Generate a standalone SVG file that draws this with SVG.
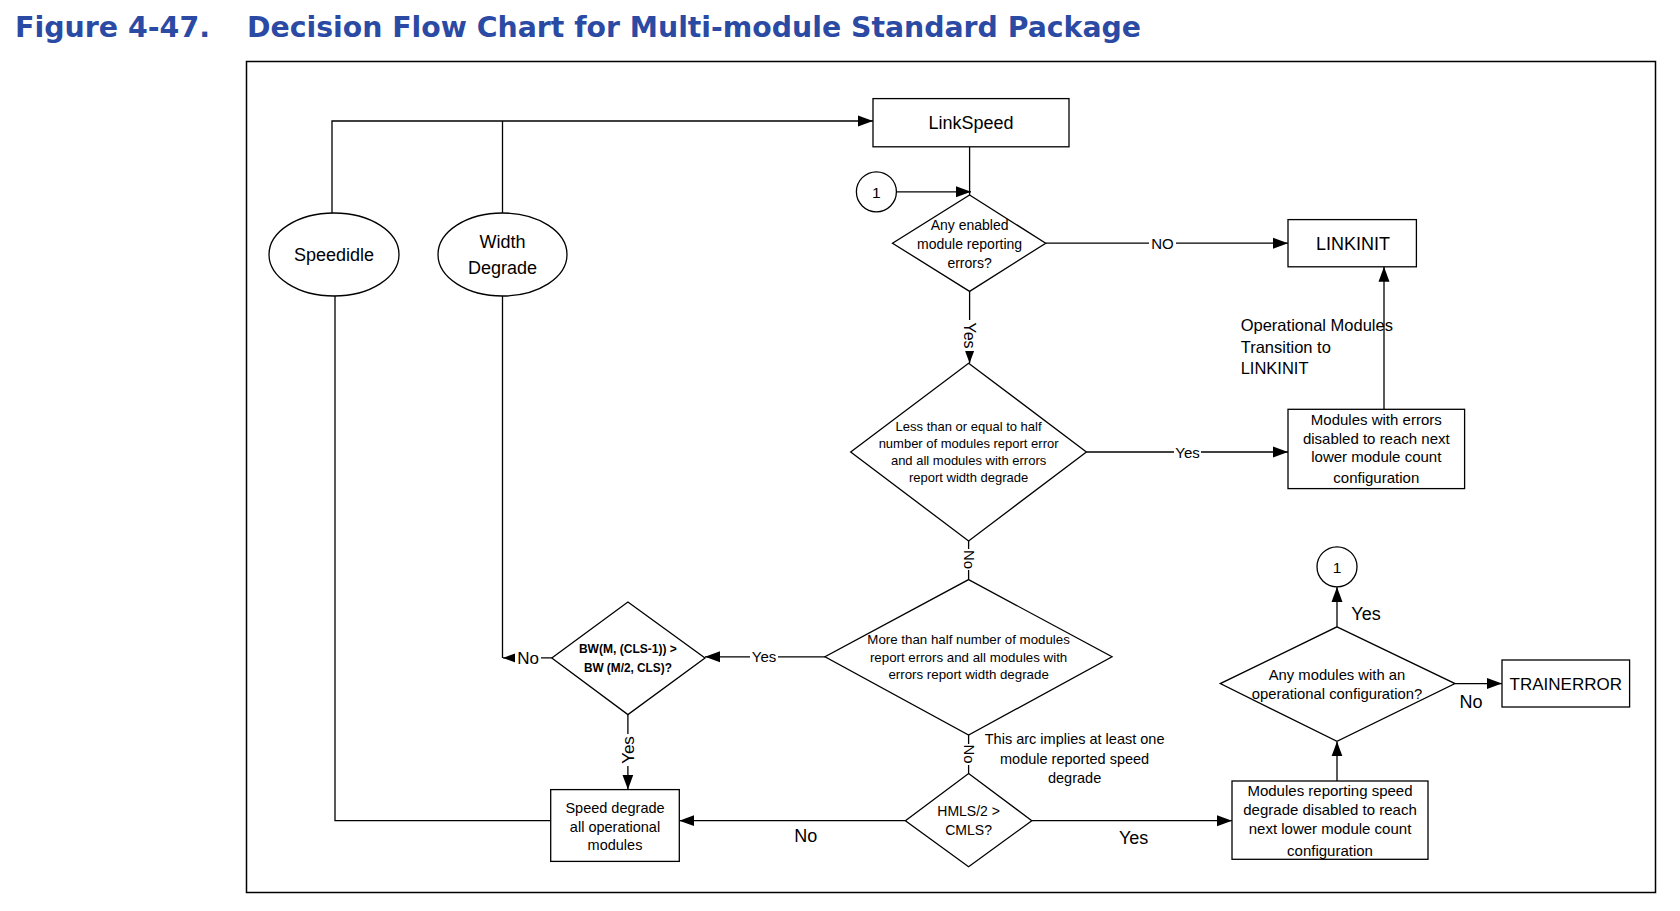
<svg xmlns="http://www.w3.org/2000/svg" width="1680" height="911" viewBox="0 0 1680 911">
<defs>
<marker id="arr" markerUnits="userSpaceOnUse" markerWidth="16" markerHeight="12" refX="15" refY="6" orient="auto">
<path d="M0,0.5 L15,6 L0,11.5 z" fill="#000"/>
</marker>
<style>
.t{font-family:"Liberation Sans",Arial,sans-serif;fill:#000;text-anchor:middle}
.s{text-anchor:start}
.title{font-family:"DejaVu Sans",Verdana,sans-serif;font-weight:bold;fill:#2b4aa3;font-size:28px}
.shape{fill:#fff;stroke:#000;stroke-width:1.3}
.ln{fill:none;stroke:#000;stroke-width:1.3}
.bg{fill:#fff}
</style>
</defs>
<rect width="1680" height="911" fill="#fff"/>
<text class="title" x="15" y="37" textLength="195" lengthAdjust="spacingAndGlyphs">Figure 4-47.</text>
<text class="title" x="247" y="37" textLength="894" lengthAdjust="spacingAndGlyphs">Decision Flow Chart for Multi-module Standard Package</text>
<rect x="246.5" y="61.5" width="1409" height="831" fill="none" stroke="#000" stroke-width="1.5"/>

<g id="connectors">
<path class="ln" d="M332,213 V121 H873" marker-end="url(#arr)"/>
<path class="ln" d="M502.5,213 V121"/>
<path class="ln" d="M969.6,146.8 V195"/>
<path class="ln" d="M896.5,191.8 H971" marker-end="url(#arr)"/>
<path class="ln" d="M1045.7,243.2 H1288" marker-end="url(#arr)"/>
<path class="ln" d="M969.6,291.4 V363.2" marker-end="url(#arr)"/>
<path class="ln" d="M1086.4,452 H1288" marker-end="url(#arr)"/>
<path class="ln" d="M1384,409.3 V266.8" marker-end="url(#arr)"/>
<path class="ln" d="M968.6,541 V579.6"/>
<path class="ln" d="M825,656.8 H705" marker-end="url(#arr)"/>
<path class="ln" d="M502.5,296 V658"/>
<path class="ln" d="M551.8,657.9 H503" marker-end="url(#arr)"/>
<path class="ln" d="M627.9,714.6 V789.6" marker-end="url(#arr)"/>
<path class="ln" d="M335,296 V820.7 H550.7"/>
<path class="ln" d="M968.6,735 V773.6"/>
<path class="ln" d="M905.4,820.7 H679.3" marker-end="url(#arr)"/>
<path class="ln" d="M1031.8,820.7 H1232" marker-end="url(#arr)"/>
<path class="ln" d="M1337,781 V741.4" marker-end="url(#arr)"/>
<path class="ln" d="M1337,626.8 V587" marker-end="url(#arr)"/>
<path class="ln" d="M1455,683.6 H1502" marker-end="url(#arr)"/>

<rect class="bg" x="1149" y="236" width="27" height="15"/>
<text class="t" x="1162.5" y="248.5" font-size="15">NO</text>
<rect class="bg" x="961" y="320" width="17" height="31"/>
<text class="t" transform="translate(969.6,335.5) rotate(90)" y="5.5" font-size="16">Yes</text>
<rect class="bg" x="1174" y="445" width="27" height="15"/>
<text class="t" x="1187.5" y="457.5" font-size="15">Yes</text>
<rect class="bg" x="961" y="549" width="15" height="21"/>
<text class="t" transform="translate(968.6,559.5) rotate(90)" y="5" font-size="15">No</text>
<rect class="bg" x="750" y="649" width="28" height="15"/>
<text class="t" x="764" y="662" font-size="15">Yes</text>
<rect class="bg" x="515" y="649" width="26" height="18"/>
<text class="t" x="528" y="664" font-size="17">No</text>
<rect class="bg" x="619" y="734" width="18" height="32"/>
<text class="t" transform="translate(628,750) rotate(-90)" y="6" font-size="17">Yes</text>
<rect class="bg" x="961" y="744" width="15" height="21"/>
<text class="t" transform="translate(968.6,754) rotate(90)" y="5" font-size="15">No</text>
<text class="t" x="805.7" y="842" font-size="18">No</text>
<text class="t" x="1133.6" y="844" font-size="18">Yes</text>
<text class="t" x="1366" y="620" font-size="18">Yes</text>
<text class="t" x="1471" y="708" font-size="18">No</text>
<text class="t s" x="1240.7" y="331" font-size="16.5">Operational Modules</text>
<text class="t s" x="1240.7" y="352.5" font-size="16.5">Transition to</text>
<text class="t s" x="1240.7" y="374" font-size="16.5">LINKINIT</text>
<text class="t" x="1074.6" y="744" font-size="14.5">This arc implies at least one</text>
<text class="t" x="1074.6" y="763.5" font-size="14.5">module reported speed</text>
<text class="t" x="1074.6" y="783" font-size="14.5">degrade</text>
</g>

<g id="speedidle">
<ellipse class="shape" cx="334" cy="254.5" rx="65" ry="41.5"/>
<text class="t" x="334" y="261" font-size="18">Speedidle</text>
</g>
<g id="width-degrade">
<ellipse class="shape" cx="502.5" cy="254.5" rx="64.5" ry="41.5"/>
<text class="t" x="502.5" y="248" font-size="18">Width</text>
<text class="t" x="502.5" y="274" font-size="18">Degrade</text>
</g>
<g id="linkspeed">
<rect class="shape" x="873" y="98.6" width="196" height="48.2"/>
<text class="t" x="971" y="129" font-size="18">LinkSpeed</text>
</g>
<g id="conn1-top">
<circle class="shape" cx="876.4" cy="191.8" r="20"/>
<text class="t" x="876.4" y="197.5" font-size="15.5">1</text>
</g>
<g id="d-any-enabled">
<polygon class="shape" points="969.6,195 1045.7,243.2 969.6,291.4 892.5,243.2"/>
<text class="t" x="969.6" y="230" font-size="14">Any enabled</text>
<text class="t" x="969.6" y="249" font-size="14">module reporting</text>
<text class="t" x="969.6" y="267.5" font-size="14">errors?</text>
</g>
<g id="linkinit">
<rect class="shape" x="1288" y="219.6" width="128.4" height="47.2"/>
<text class="t" x="1353" y="250" font-size="18">LINKINIT</text>
</g>
<g id="d-less-half">
<polygon class="shape" points="968.6,363.2 1086.4,452 968.6,541 850.7,452"/>
<text class="t" x="968.6" y="431" font-size="13">Less than or equal to half</text>
<text class="t" x="968.6" y="448" font-size="13">number of modules report error</text>
<text class="t" x="968.6" y="465" font-size="13">and all modules with errors</text>
<text class="t" x="968.6" y="482" font-size="13">report width degrade</text>
</g>
<g id="box-errors-disabled">
<rect class="shape" x="1288" y="409.3" width="176.6" height="79.3"/>
<text class="t" x="1376.3" y="425" font-size="15">Modules with errors</text>
<text class="t" x="1376.3" y="443.5" font-size="15">disabled to reach next</text>
<text class="t" x="1376.3" y="462" font-size="15">lower module count</text>
<text class="t" x="1376.3" y="483" font-size="15">configuration</text>
</g>
<g id="d-more-half">
<polygon class="shape" points="968.6,579.6 1112,656.8 968.6,735 825,656.8"/>
<text class="t" x="968.6" y="644" font-size="13.3">More than half number of modules</text>
<text class="t" x="968.6" y="661.5" font-size="13.3">report errors and all modules with</text>
<text class="t" x="968.6" y="678.5" font-size="13.3">errors report width degrade</text>
</g>
<g id="d-bw">
<polygon class="shape" points="627.9,602 705,657.9 627.9,714.6 551.8,657.9"/>
<text class="t" x="627.9" y="652.5" font-size="12.5" font-weight="bold" textLength="98" lengthAdjust="spacingAndGlyphs">BW(M, (CLS-1)) &gt;</text>
<text class="t" x="627.9" y="671.5" font-size="12.5" font-weight="bold" textLength="88" lengthAdjust="spacingAndGlyphs">BW (M/2, CLS)?</text>
</g>
<g id="box-speed-degrade">
<rect class="shape" x="550.7" y="789.6" width="128.6" height="71.8"/>
<text class="t" x="615" y="812.5" font-size="14.5">Speed degrade</text>
<text class="t" x="615" y="831.5" font-size="14.5">all operational</text>
<text class="t" x="615" y="850" font-size="14.5">modules</text>
</g>
<g id="d-hmls">
<polygon class="shape" points="968.6,773.6 1031.8,820.7 968.6,866.8 905.4,820.7"/>
<text class="t" x="968.6" y="815.5" font-size="14">HMLS/2 &gt;</text>
<text class="t" x="968.6" y="834.5" font-size="14">CMLS?</text>
</g>
<g id="box-speed-disabled">
<rect class="shape" x="1232" y="781" width="196" height="78.3"/>
<text class="t" x="1330" y="795.5" font-size="15">Modules reporting speed</text>
<text class="t" x="1330" y="815" font-size="15">degrade disabled to reach</text>
<text class="t" x="1330" y="834" font-size="15">next lower module count</text>
<text class="t" x="1330" y="855.5" font-size="15">configuration</text>
</g>
<g id="d-any-operational">
<polygon class="shape" points="1337,626.8 1455,683.6 1337,741.4 1220.3,683.6"/>
<text class="t" x="1337" y="679.5" font-size="14.8">Any modules with an</text>
<text class="t" x="1337" y="698.5" font-size="14.8">operational configuration?</text>
</g>
<g id="conn1-bottom">
<circle class="shape" cx="1337" cy="566.8" r="20"/>
<text class="t" x="1337" y="572.5" font-size="15.5">1</text>
</g>
<g id="trainerror">
<rect class="shape" x="1502" y="660" width="127.6" height="47"/>
<text class="t" x="1565.8" y="690" font-size="17">TRAINERROR</text>
</g>
</svg>
